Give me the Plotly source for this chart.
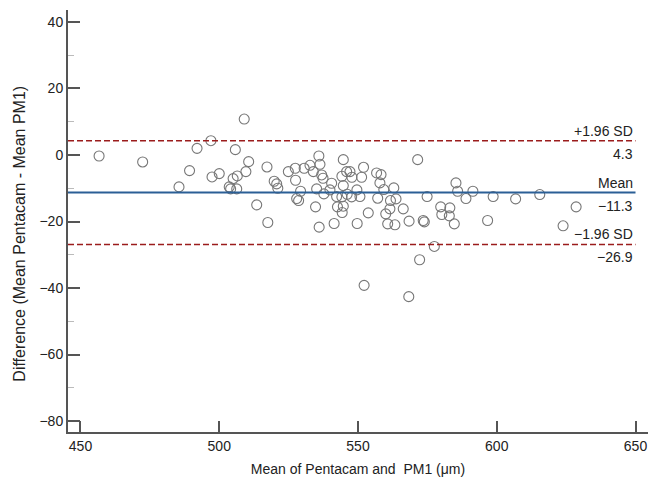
import plotly.graph_objects as go

# Bland-Altman data: mean of the two methods (x) and their difference (y)
mean_vals = [456.7, 472.4, 485.5, 489.3, 492.0, 497.0, 497.4, 500.0, 503.6, 504.1,
             505.0, 506.5, 506.3, 505.8, 509.0, 509.6, 510.6, 513.5, 517.2, 517.5,
             519.8, 520.7, 521.1, 524.9, 527.4, 527.5, 527.9, 528.6, 529.3, 530.6,
             532.7, 533.9, 535.9, 536.3, 536.9, 537.4, 535.1, 534.7, 536.0, 537.7,
             539.9, 540.5, 541.4, 542.3, 542.6, 544.7, 544.2, 545.9, 547.1, 547.8,
             544.7, 544.2, 544.7, 544.3, 546.1, 547.7, 549.6, 550.7, 551.3, 552.0,
             549.7, 553.7, 552.2, 556.7, 558.3, 557.9, 559.3, 557.1, 562.9, 561.7,
             563.7, 561.5, 560.0, 566.3, 560.7, 563.3, 568.4, 568.3, 571.5, 572.2,
             573.5, 573.9, 574.9, 577.5, 579.8, 580.2, 583.1, 582.9, 584.7, 585.3,
             585.9, 588.9, 591.4, 596.7, 598.7, 606.8, 615.5, 623.9, 628.6]
diff_vals = [-0.3, -2.1, -9.6, -4.7, 2.0, 4.3, -6.6, -5.6, -9.6, -10.2,
             -7.1, -6.3, -10.2, 1.6, 10.8, -5.0, -2.0, -15.0, -3.6, -20.3,
             -7.9, -8.7, -10.0, -5.0, -4.0, -7.6, -13.1, -13.7, -10.9, -4.0,
             -3.1, -5.0, -0.3, -2.8, -6.0, -7.0, -10.2, -15.6, -21.7, -11.7,
             -10.5, -8.5, -20.6, -12.5, -15.6, -1.4, -6.4, -5.0, -5.0, -6.7,
             -9.2, -12.6, -15.4, -17.3, -11.8, -12.6, -10.5, -12.5, -6.7, -3.7,
             -20.6, -17.4, -39.2, -5.4, -5.9, -8.4, -10.4, -13.0, -9.9, -13.7,
             -13.2, -16.2, -17.7, -16.2, -20.7, -21.0, -19.9, -42.6, -1.4, -31.5,
             -19.7, -20.1, -12.5, -27.5, -15.6, -17.9, -15.9, -18.3, -20.7, -8.4,
             -10.9, -13.1, -10.9, -19.7, -12.5, -13.2, -11.9, -21.3, -15.6]

mean_diff = -11.3
upper_loa = 4.3
lower_loa = -26.9
line_names = ["+1.96 SD", "Mean", "\u22121.96 SD"]
line_values = [upper_loa, mean_diff, lower_loa]
line_value_labels = ["4.3", "\u221211.3", "\u221226.9"]

x_title = "Mean of Pentacam and  PM1 (\u03bcm)"
y_title = "Difference (Mean Pentacam - Mean PM1)"

x_line_end = 650
x_range = [445.5, 654.5]
y_range = [-83.3, 43.6]

FONT = "Liberation Sans, Arial, sans-serif"
AXIS_COL = "#555555"
BLUE = "#2b5f96"
RED = "#9b1c1c"

fig = go.Figure()

fig.add_trace(go.Scatter(
    x=mean_vals, y=diff_vals, mode="markers",
    marker=dict(symbol="circle-open", size=10, color="#777777", line=dict(width=1.1)),
    showlegend=False, hoverinfo="x+y"))

styles = [dict(color=RED, width=1.6, dash="6px,3px"),
          dict(color=BLUE, width=2),
          dict(color=RED, width=1.6, dash="6px,3px")]
for val, st in zip(line_values, styles):
    fig.add_trace(go.Scatter(x=[x_range[0], x_line_end], y=[val, val], mode="lines",
                             line=st, showlegend=False, hoverinfo="skip"))

for name, val, lab in zip(line_names, line_values, line_value_labels):
    fig.add_annotation(x=x_line_end, y=val, text=name, showarrow=False,
                       xanchor="right", yanchor="middle", yshift=10, xshift=-1,
                       font=dict(family=FONT, size=14, color="#222222"))
    fig.add_annotation(x=x_line_end, y=val, text=lab, showarrow=False,
                       xanchor="right", yanchor="middle", yshift=-13, xshift=-1,
                       font=dict(family=FONT, size=14, color="#222222"))

# y-axis title placed precisely
fig.add_annotation(xref="paper", yref="paper", x=0, y=0.47, xshift=-48,
                   text=y_title, textangle=-90, showarrow=False,
                   xanchor="center", yanchor="middle",
                   font=dict(family=FONT, size=16, color="#222222"))

fig.update_layout(
    width=654, height=477,
    margin=dict(l=68, r=6, t=10, b=45, autoexpand=False),
    paper_bgcolor="white", plot_bgcolor="white",
    font=dict(family=FONT, size=14, color="#222222"),
    xaxis=dict(range=x_range, showgrid=False, zeroline=False, automargin=False,
               showline=True, linecolor=AXIS_COL, linewidth=2,
               ticks="inside", ticklen=11, tickwidth=1.5, tickcolor=AXIS_COL,
               tickvals=[450, 500, 550, 600, 650],
               title=dict(text=x_title, font=dict(size=14))),
    yaxis=dict(range=y_range, showgrid=False, zeroline=False, automargin=False,
               showline=True, linecolor=AXIS_COL, linewidth=2,
               ticks="inside", ticklen=12, tickwidth=1.5, tickcolor=AXIS_COL,
               tickvals=[-80, -60, -40, -20, 0, 20, 40],
               minor=dict(tickvals=[-70, -50, -30, -10, 10, 30], ticks="inside",
                          ticklen=6, tickwidth=1, tickcolor="#bbbbbb")),
)

fig.write_html("out.html", config={"displayModeBar": False},
               post_script="document.body.style.margin='0';document.body.style.overflow='hidden';")
